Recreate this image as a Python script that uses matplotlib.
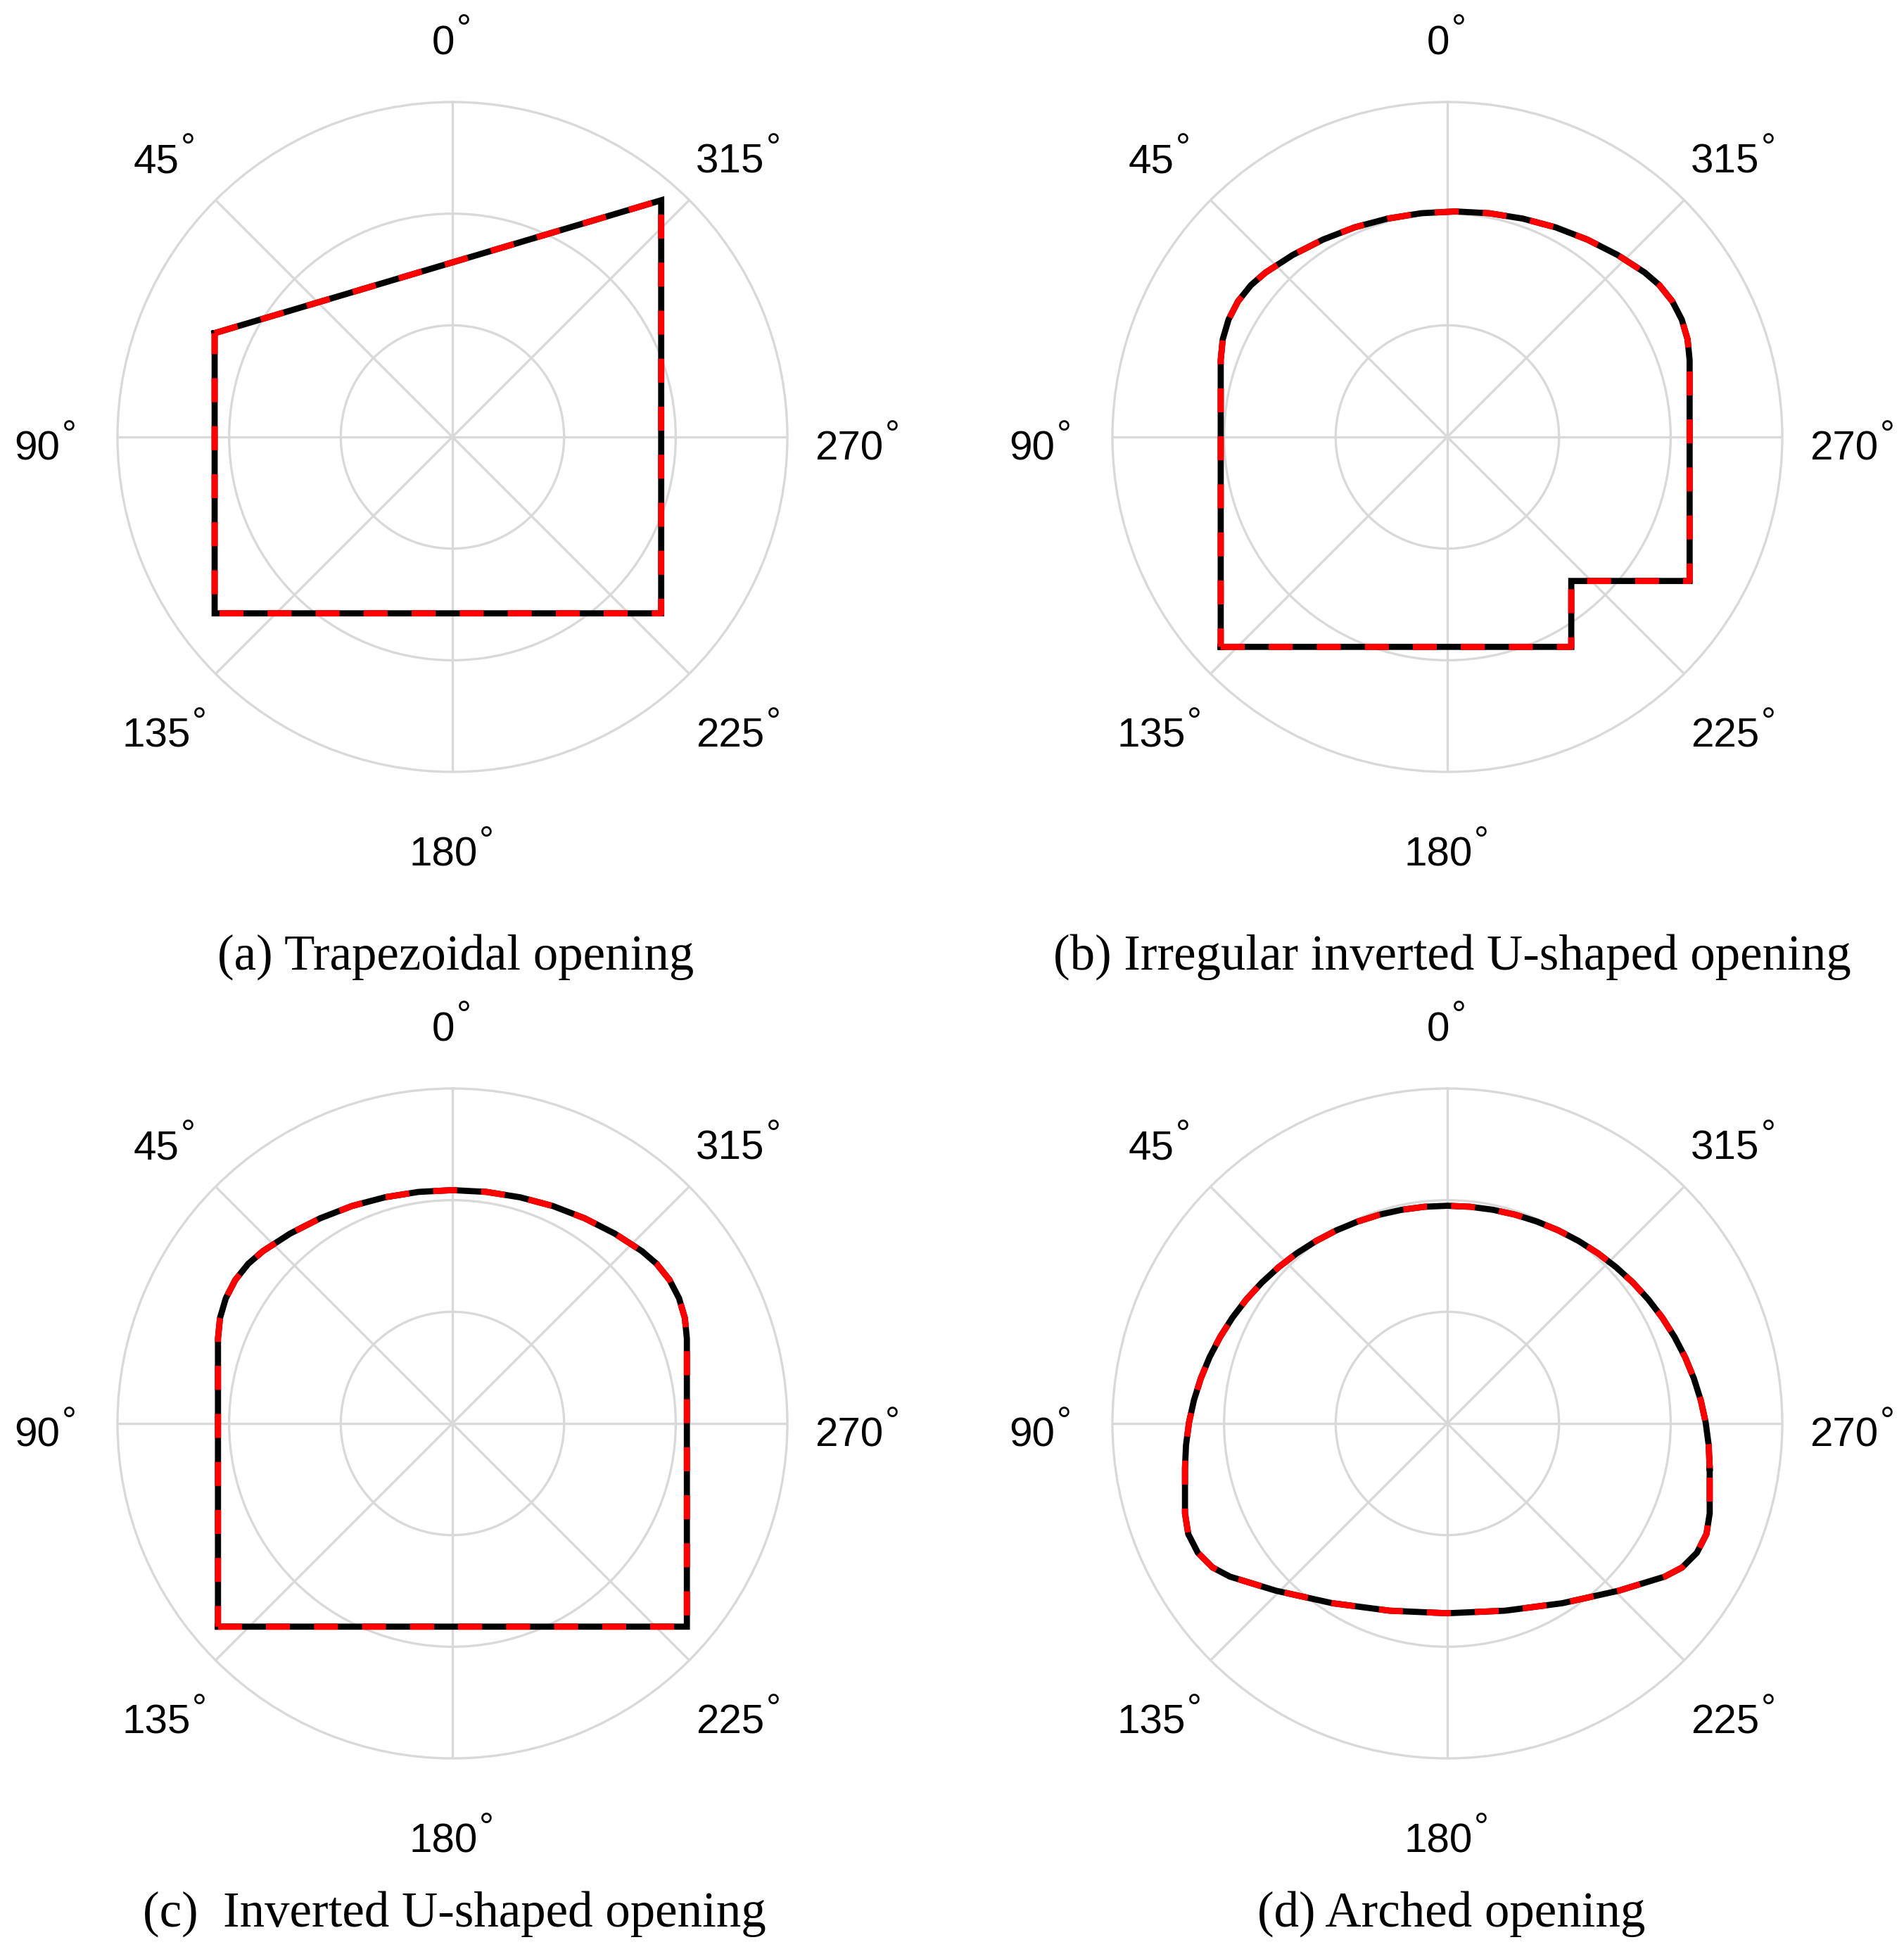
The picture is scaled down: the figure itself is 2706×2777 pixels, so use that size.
import numpy as np
import matplotlib.pyplot as plt

# outline points of each opening (x, y in radial units)
trap_x = [-2.13, 1.87, 1.87, -2.13, -2.13]
trap_y = [0.93, 2.12, -1.58, -1.58, 0.93]

irr_x = [-2.03, 1.11, 1.11, 2.17, 2.17, 2.152, 2.10, 2.015, 1.899, 1.768,
         1.525, 1.254, 0.969, 0.675, 0.374, 0.07, -0.234, -0.535, -0.829,
         -1.114, -1.385, -1.628, -1.759, -1.875, -1.96, -2.012, -2.03, -2.03]
irr_y = [-1.88, -1.88, -1.29, -1.29, 0.69, 0.874, 1.051, 1.215, 1.36, 1.473,
         1.63, 1.768, 1.878, 1.956, 2.004, 2.02, 2.004, 1.956, 1.878,
         1.768, 1.63, 1.473, 1.36, 1.215, 1.051, 0.874, 0.69, -1.88]

ush_x = [-2.10, 2.10, 2.10, 2.082, 2.030, 1.945, 1.829, 1.698,
         1.455, 1.184, 0.899, 0.605, 0.304, 0.0, -0.304, -0.605, -0.899,
         -1.184, -1.455, -1.698, -1.829, -1.945, -2.030, -2.082, -2.10, -2.10]
ush_y = [-1.82, -1.82, 0.76, 0.944, 1.121, 1.285, 1.430, 1.543,
         1.700, 1.838, 1.948, 2.026, 2.074, 2.09, 2.074, 2.026, 1.948,
         1.838, 1.700, 1.543, 1.430, 1.285, 1.121, 0.944, 0.76, -1.82]

arch_x = [2.350, 2.341, 2.314, 2.270, 2.208, 2.130, 2.035, 1.925, 1.800, 1.662,
          1.511, 1.348, 1.175, 0.993, 0.804, 0.608, 0.408, 0.205, 0.0,
          -0.205, -0.408, -0.608, -0.804, -0.993, -1.175, -1.348, -1.511, -1.662,
          -1.800, -1.925, -2.035, -2.130, -2.208, -2.270, -2.314, -2.341, -2.350,
          -2.350, -2.321, -2.235, -2.103, -1.947, -1.535, -1.030, -0.517, 0.0,
          0.517, 1.030, 1.535, 1.947, 2.103, 2.235, 2.321, 2.350, 2.350]
arch_y = [-0.400, -0.195, 0.008, 0.208, 0.404, 0.593, 0.775, 0.948, 1.111, 1.262,
          1.400, 1.525, 1.635, 1.730, 1.808, 1.870, 1.914, 1.941, 1.950,
          1.941, 1.914, 1.870, 1.808, 1.730, 1.635, 1.525, 1.400, 1.262,
          1.111, 0.948, 0.775, 0.593, 0.404, 0.208, 0.008, -0.195, -0.400,
          -0.805, -0.990, -1.158, -1.290, -1.372, -1.498, -1.610, -1.677, -1.700,
          -1.677, -1.610, -1.498, -1.372, -1.290, -1.158, -0.990, -0.805, -0.400]

captions = ['(a) Trapezoidal opening',
            '(b) Irregular inverted U-shaped opening',
            '(c)  Inverted U-shaped opening',
            '(d) Arched opening']
angle_labels = [0, 45, 90, 135, 180, 225, 270, 315]

W, H = 2706, 2777
fig = plt.figure(figsize=(W / 300, H / 300), dpi=300)

R = 476
centers = [(643, 621), (2057, 621), (643, 2023), (2057, 2023)]
caption_pos = [(648, 1360), (2064, 1360), (646, 2720), (2063, 2720)]
shapes = [(trap_x, trap_y), (irr_x, irr_y), (ush_x, ush_y), (arch_x, arch_y)]
grid_col = '#d9d9d9'

for (cx, cy), (sx, sy), cap, (tx, ty) in zip(centers, shapes, captions, caption_pos):
    ax = fig.add_axes([(cx - R) / W, (H - cy - R) / H, 2 * R / W, 2 * R / H],
                      projection='polar')
    ax.set_theta_zero_location('N')
    ax.set_theta_direction(1)
    ax.set_ylim(0, 3)
    ax.set_yticks([1, 2])
    ax.set_yticklabels([])
    ax.set_xticks(np.deg2rad(angle_labels))
    ax.set_xticklabels([])
    ax.grid(True, color=grid_col, linewidth=0.8)
    ax.spines['polar'].set_color(grid_col)
    ax.spines['polar'].set_linewidth(0.8)
    ax.tick_params(length=0)

    x = np.asarray(sx)
    y = np.asarray(sy)
    theta = np.arctan2(-x, y)
    r = np.hypot(x, y)
    ax.plot(theta, r, color='black', lw=2.1, zorder=3, solid_joinstyle='miter')
    ax.plot(theta, r, color='red', lw=2.1, ls=(0, (3.9, 3.9)), zorder=4)

    # angle labels: number plus a small raised ring
    for a in angle_labels:
        s = str(a)
        th = np.deg2rad(a)
        ax.annotate(s, (th, 3.636), xytext=(-3.1, -7.9), textcoords='offset points',
                    ha='center', va='baseline', fontsize=14,
                    family='Liberation Sans', annotation_clip=False)
        ax.annotate('\u00b0', (th, 3.636), xytext=(-3.1 + len(s) * 3.89 + 0.5, -3.2),
                    textcoords='offset points', ha='left', va='baseline',
                    fontsize=12.5, family='Liberation Sans', annotation_clip=False)

    fig.text(tx / W, 1 - ty / H, cap, ha='center', va='center',
             fontsize=17, family='Liberation Serif')

plt.savefig('out.png', dpi=300)
